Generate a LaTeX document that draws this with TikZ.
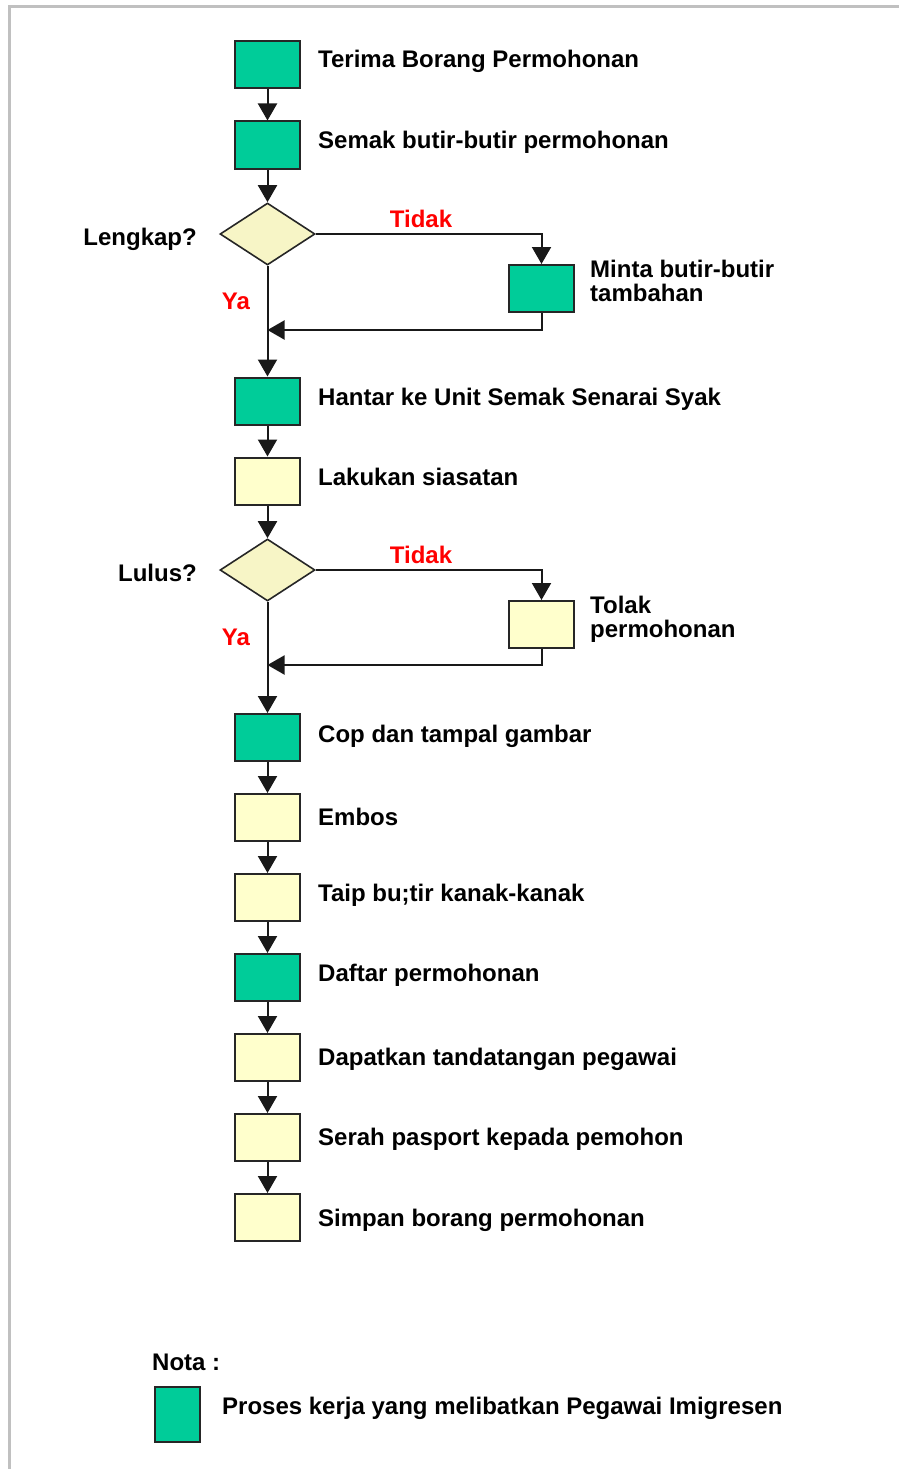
\documentclass[tikz,border=0pt]{standalone}
\usepackage{fontspec}
\setmainfont{Liberation Sans}
\usetikzlibrary{shapes.geometric,arrows.meta}
\definecolor{procgreen}{HTML}{00CC99}
\definecolor{proccream}{HTML}{FFFFCC}
\definecolor{diafill}{HTML}{F7F5C6}
\definecolor{framegray}{HTML}{C0C0C0}
\definecolor{textred}{HTML}{FF0000}
\tikzset{
  procbox/.style={draw=black!85, line width=2pt, minimum width=65pt, minimum height=47pt, inner sep=0pt},
  gbox/.style={procbox, fill=procgreen},
  ybox/.style={procbox, fill=proccream},
  decbox/.style={diamond, draw=black!85, line width=1.6pt, fill=diafill, minimum width=95pt, minimum height=62pt, inner sep=0pt},
  flow/.style={line width=2pt, black!90, -{Triangle[width=19pt,length=17pt]}},
  plain/.style={line width=2pt, black!90},
  lbl/.style={font=\fontsize{24}{26}\selectfont\bfseries, inner sep=0pt, anchor=base west},
  lblr/.style={font=\fontsize{24}{26}\selectfont\bfseries, inner sep=0pt, anchor=base east},
  redlbl/.style={font=\fontsize{24}{26}\selectfont\bfseries, text=textred, inner sep=0pt, anchor=base}
}
\begin{document}
\begin{tikzpicture}[x=1pt,y=-1pt]
\useasboundingbox (0,0) rectangle (899,1469);
\fill[white] (0,0) rectangle (899,1469);
% frame
\draw[framegray, line width=2.5pt] (9.5,1469) -- (9.5,6.5) -- (899,6.5);

% main column
\node[gbox] (b1) at (267.5,65) {};
\node[gbox] (b2) at (267.5,145) {};
\node[decbox] (d1) at (267.5,234) {};
\node[gbox] (m1) at (541.5,288.5) {};
\node[gbox] (b3) at (267.5,401) {};
\node[ybox] (b4) at (267.5,481) {};
\node[decbox] (d2) at (267.5,570) {};
\node[ybox] (m2) at (541.5,624.5) {};
\node[gbox] (b5) at (267.5,737.5) {};
\node[ybox] (b6) at (267.5,817.5) {};
\node[ybox] (b7) at (267.5,897.5) {};
\node[gbox] (b8) at (267.5,977.5) {};
\node[ybox] (b9) at (267.5,1057.5) {};
\node[ybox] (b10) at (267.5,1137.5) {};
\node[ybox] (b11) at (267.5,1217.5) {};

\coordinate (j1) at (267.5,330);
\coordinate (j2) at (267.5,665);

% labels
\node[lbl] (t1) at (318,68) {Terima Borang Permohonan};
\node[lbl] (t2) at (318,149) {Semak butir-butir permohonan};
\node[lblr] (q1) at (197,245) {Lengkap?};
\node[lbl] (tm1) at (590,277) {Minta butir-butir};
\node[lbl] (tm1b) at (590,301) {tambahan};
\node[lbl] (t3) at (318,405) {Hantar ke Unit Semak Senarai Syak};
\node[lbl] (t4) at (318,485) {Lakukan siasatan};
\node[lblr] (q2) at (197,581) {Lulus?};
\node[lbl] (tm2) at (590,613) {Tolak};
\node[lbl] (tm2b) at (590,637) {permohonan};
\node[lbl] (t5) at (318,742) {Cop dan tampal gambar};
\node[lbl] (t6) at (318,825) {Embos};
\node[lbl] (t7) at (318,901) {Taip bu;tir kanak-kanak};
\node[lbl] (t8) at (318,981) {Daftar permohonan};
\node[lbl] (t9) at (318,1065) {Dapatkan tandatangan pegawai};
\node[lbl] (t10) at (318,1145) {Serah pasport kepada pemohon};
\node[lbl] (t11) at (318,1226) {Simpan borang permohonan};

\node[redlbl] (n1) at (421,227) {Tidak};
\node[redlbl] (y1) at (236,309) {Ya};
\node[redlbl] (n2) at (421,563) {Tidak};
\node[redlbl] (y2) at (236,645) {Ya};

% connectors
\draw[flow] (b1) -- (b2);
\draw[flow] (b2) -- (d1);
\draw[flow] (d1.east) -| (m1.north);
\draw[flow] (m1.south) |- (j1);
\draw[flow] (d1.south) -- (b3.north);
\draw[flow] (b3) -- (b4);
\draw[flow] (b4) -- (d2);
\draw[flow] (d2.east) -| (m2.north);
\draw[flow] (m2.south) |- (j2);
\draw[flow] (d2.south) -- (b5.north);
\draw[flow] (b5) -- (b6);
\draw[flow] (b6) -- (b7);
\draw[flow] (b7) -- (b8);
\draw[flow] (b8) -- (b9);
\draw[flow] (b9) -- (b10);
\draw[flow] (b10) -- (b11);

% legend
\node[lbl] (nota) at (152,1370) {Nota :};
\node[procbox, fill=procgreen, minimum width=45pt, minimum height=55pt] (lg) at (177.5,1414) {};
\node[lbl] (lgt) at (222,1414) {Proses kerja yang melibatkan Pegawai Imigresen};
\end{tikzpicture}
\end{document}
